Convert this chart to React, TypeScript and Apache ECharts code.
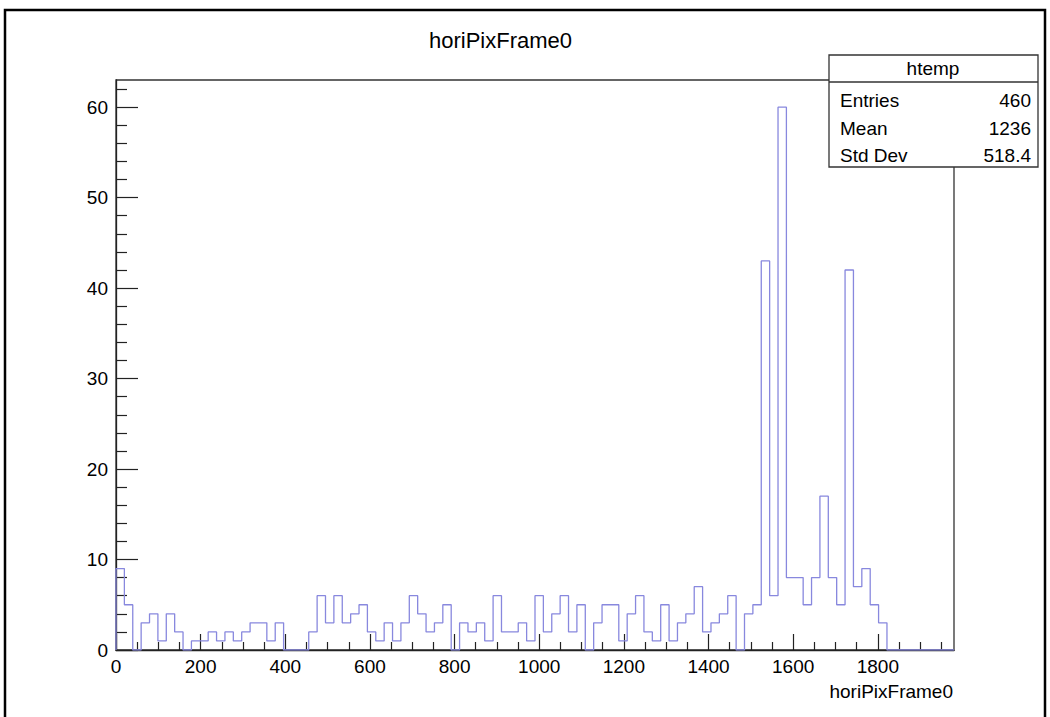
import React, { useEffect, useRef } from "react";
import * as echarts from "echarts";

// Histogram "htemp" of horiPixFrame0: 100 bins over [0, 1980]
const binWidth = 19.8;
const counts = [
  9, 5, 0, 3, 4, 1, 4, 2, 0, 1,
  1, 2, 1, 2, 1, 2, 3, 3, 1, 3,
  0, 0, 0, 2, 6, 3, 6, 3, 4, 5,
  2, 1, 3, 1, 3, 6, 4, 2, 3, 5,
  0, 3, 2, 3, 1, 6, 2, 2, 3, 1,
  6, 2, 4, 6, 2, 5, 0, 3, 5, 5,
  1, 4, 6, 2, 1, 5, 1, 3, 4, 7,
  2, 3, 4, 6, 0, 4, 5, 43, 6, 60,
  8, 8, 5, 8, 17, 8, 5, 42, 7, 9,
  5, 3, 0, 0, 0, 0, 0, 0, 0, 0,
];

const xMajorTicks = [0, 200, 400, 600, 800, 1000, 1200, 1400, 1600, 1800];
const xMinorTicks = [
  50, 100, 150, 250, 300, 350, 450, 500, 550, 650, 700, 750, 850, 900, 950,
  1050, 1100, 1150, 1250, 1300, 1350, 1450, 1500, 1550, 1650, 1700, 1750,
  1850, 1900, 1950,
];
const yMajorTicks = [0, 10, 20, 30, 40, 50, 60];
const yMinorTicks = [
  2, 4, 6, 8, 12, 14, 16, 18, 22, 24, 26, 28, 32, 34, 36, 38, 42, 44, 46, 48,
  52, 54, 56, 58, 62,
];

const statsTitle = "htemp";
const statsLabels = ["Entries", "Mean", "Std Dev"];
const statsValues = ["460", "1236", "518.4"];
const chartTitle = "horiPixFrame0";
const xTitle = "horiPixFrame0";

const FONT = "'Liberation Sans', Arial, Helvetica, sans-serif";

export default function App() {
  const ref = useRef<HTMLDivElement>(null);

  useEffect(() => {
    if (!ref.current) return;
    const chart = echarts.init(ref.current, null, { renderer: "svg" });

    // step outline: start at (0,0), then each bin's right edge carries its count
    const stepData: number[][] = [[0, 0]];
    counts.forEach((c, i) => {
      stepData.push([(i + 1) * binWidth, c]);
    });
    const xMax = counts.length * binWidth;

    const tickColor = "#222";
    const rowYs = [100, 128, 155];
    const plain = (v: number) => String(v);

    const option: any = {
      animation: false,
      backgroundColor: "#fff",
      title: {
        text: chartTitle,
        left: 424,
        top: 24,
        textStyle: { fontFamily: FONT, fontSize: 22, fontWeight: "normal", color: "#000" },
      },
      grid: {
        left: 116,
        right: 96,
        top: 80,
        bottom: 67,
        show: true,
        borderColor: "#333",
        borderWidth: 1.3,
        backgroundColor: "#fff",
        containLabel: false,
      },
      xAxis: [
        {
          type: "value",
          min: 0,
          max: xMax,
          position: "bottom",
          axisLine: { show: true, onZero: false, lineStyle: { color: tickColor, width: 1.3 } },
          axisTick: { show: true, inside: true, length: 16, customValues: xMajorTicks, lineStyle: { color: tickColor, width: 1.2 } },
          axisLabel: { show: true, customValues: xMajorTicks, formatter: plain, fontFamily: FONT, fontSize: 19, color: "#000", margin: 7 },
          splitLine: { show: false },
        },
        {
          type: "value",
          min: 0,
          max: xMax,
          position: "bottom",
          axisLine: { show: false, onZero: false },
          axisTick: { show: true, inside: true, length: 8, customValues: xMinorTicks, lineStyle: { color: tickColor, width: 1.2 } },
          axisLabel: { show: false },
          splitLine: { show: false },
        },
      ],
      yAxis: [
        {
          type: "value",
          min: 0,
          max: 63,
          position: "left",
          axisLine: { show: true, onZero: false, lineStyle: { color: tickColor, width: 1.3 } },
          axisTick: { show: true, inside: true, length: 22, customValues: yMajorTicks, lineStyle: { color: tickColor, width: 1.2 } },
          axisLabel: { show: true, customValues: yMajorTicks, formatter: plain, fontFamily: FONT, fontSize: 19, color: "#000", margin: 8 },
          splitLine: { show: false },
        },
        {
          type: "value",
          min: 0,
          max: 63,
          position: "left",
          axisLine: { show: false, onZero: false },
          axisTick: { show: true, inside: true, length: 11, customValues: yMinorTicks, lineStyle: { color: tickColor, width: 1.2 } },
          axisLabel: { show: false },
          splitLine: { show: false },
        },
      ],
      series: [
        {
          type: "line",
          xAxisIndex: 0,
          yAxisIndex: 0,
          step: "start",
          showSymbol: false,
          symbol: "none",
          data: stepData,
          lineStyle: { color: "#8888de", width: 1.3 },
          silent: true,
          z: 3,
        },
      ],
      graphic: [
        {
          type: "rect",
          shape: { x: 5, y: 10, width: 1040, height: 740 },
          style: { fill: "none", stroke: "#000", lineWidth: 2.5 },
          silent: true,
          z: 100,
        },
        {
          type: "text",
          x: 953,
          y: 691,
          style: { text: xTitle, fontFamily: FONT, fontSize: 19, fill: "#000", textAlign: "right", textVerticalAlign: "middle" },
          z: 100,
        },
        {
          type: "group",
          z: 100,
          children: [
            {
              type: "rect",
              shape: { x: 829, y: 55, width: 209, height: 112 },
              style: { fill: "#fff", stroke: "#333", lineWidth: 1.3 },
            },
            {
              type: "line",
              shape: { x1: 829, y1: 82, x2: 1038, y2: 82 },
              style: { stroke: "#333", lineWidth: 1.3 },
            },
            {
              type: "text",
              x: 933,
              y: 68,
              style: { text: statsTitle, fontFamily: FONT, fontSize: 19, fill: "#000", textAlign: "center", textVerticalAlign: "middle" },
            },
            ...statsLabels.map((lab, i) => ({
              type: "text",
              x: 840,
              y: rowYs[i],
              style: { text: lab, fontFamily: FONT, fontSize: 19, fill: "#000", textAlign: "left", textVerticalAlign: "middle" },
            })),
            ...statsValues.map((val, i) => ({
              type: "text",
              x: 1031,
              y: rowYs[i],
              style: { text: val, fontFamily: FONT, fontSize: 19, fill: "#000", textAlign: "right", textVerticalAlign: "middle" },
            })),
          ],
        },
      ],
    };

    chart.setOption(option);
    return () => {
      chart.dispose();
    };
  }, []);

  return (
    <div
      ref={ref}
      style={{ position: "fixed", left: 0, top: 0, width: 1050, height: 717, background: "#fff" }}
    />
  );
}
